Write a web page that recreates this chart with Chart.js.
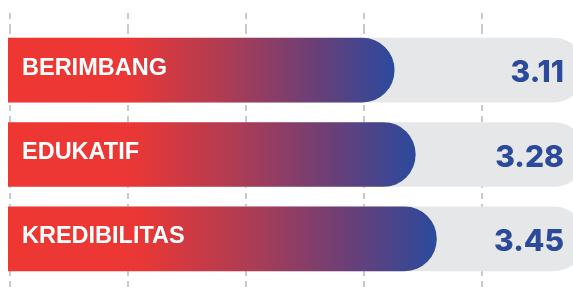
<!DOCTYPE html>
<html>
<head>
<meta charset="utf-8">
<script src="https://cdn.jsdelivr.net/npm/chart.js@4.4.1/dist/chart.umd.min.js"></script>
<style>
    html, body { margin: 0; padding: 0; background: #ffffff; }
    #wrap { width: 573px; height: 288px; position: relative; }
</style>
</head>
<body>
<div id="wrap"><canvas id="chart"></canvas></div>
<script>
const categories = ['BERIMBANG', 'EDUKATIF', 'KREDIBILITAS'];
const scores = [3.11, 3.28, 3.45];
const valueLabels = ['3.11', '3.28', '3.45'];
// grey track behind each bar runs past the right edge
const trackValues = [4.65, 4.65, 4.65];
const xMax = 4.55;

const RED = '#ee3733';
const BLUE = '#2b4a9d';
const GRID = '#c9cacc';

// gradient goes from red to blue along each bar's own length
const barGradient = (c) => {
    const chart = c.chart;
    if (!chart.chartArea || !chart.scales.x) {
        return RED;
    }
    const x0 = chart.scales.x.getPixelForValue(0);
    const x1 = chart.scales.x.getPixelForValue(scores[c.dataIndex]);
    const g = chart.ctx.createLinearGradient(x0, 0, x1, 0);
    g.addColorStop(0, RED);
    g.addColorStop(0.3, '#eb3735');
    g.addColorStop(0.55, '#b13c52');
    g.addColorStop(0.8, '#693f78');
    g.addColorStop(1, BLUE);
    return g;
};

const barLabels = {
    id: 'barLabels',
    afterDatasetsDraw: (chart) => {
        const ctx = chart.ctx;
        const meta = chart.getDatasetMeta(0);
        ctx.save();
        meta.data.forEach((bar, i) => {
            ctx.fillStyle = '#ffffff';
            ctx.font = 'bold 23.5px "Liberation Sans", Arial, sans-serif';
            ctx.textAlign = 'left';
            ctx.textBaseline = 'middle';
            ctx.fillText(categories[i], chart.chartArea.left + 14, bar.y - 2);

            ctx.fillStyle = '#2c4a9c';
            ctx.font = '800 30px Inter, sans-serif';
            ctx.textAlign = 'right';
            ctx.textBaseline = 'middle';
            ctx.fillText(valueLabels[i], chart.chartArea.right - 9, bar.y + 3);
        });
        ctx.restore();
    }
};

const gridAxis = (position, tickLength, onArea) => ({
    type: 'linear',
    position: position,
    min: -0.02,
    max: 4.77,
    ticks: { display: false, stepSize: 1, includeBounds: false },
    grid: {
        color: GRID,
        lineWidth: 2,
        tickLength: tickLength,
        tickColor: GRID,
        tickWidth: 2,
        tickBorderDash: [6, 5],
        drawOnChartArea: onArea
    },
    border: { display: false, dash: [6, 5] }
});

const config = {
    type: 'bar',
    data: {
        labels: categories,
        datasets: [
            {
                data: scores,
                backgroundColor: barGradient,
                borderRadius: 32,
                barThickness: 64,
                grouped: false
            },
            {
                data: trackValues,
                backgroundColor: '#e6e7e9',
                borderRadius: 32,
                barThickness: 64,
                grouped: false
            }
        ]
    },
    options: {
        indexAxis: 'y',
        responsive: true,
        maintainAspectRatio: false,
        animation: false,
        layout: {
            padding: { left: 8, top: 13, right: 0, bottom: 0 }
        },
        scales: {
            y: { display: false },
            x: { display: false, min: 0, max: xMax },
            xGridTop: gridAxis('top', 15, true),
            xGridBottom: gridAxis('bottom', 7, false)
        },
        plugins: {
            legend: { display: false },
            tooltip: { enabled: false },
            title: { display: false }
        }
    },
    plugins: [barLabels]
};

new Chart(document.getElementById('chart'), config);
</script>
</body>
</html>
